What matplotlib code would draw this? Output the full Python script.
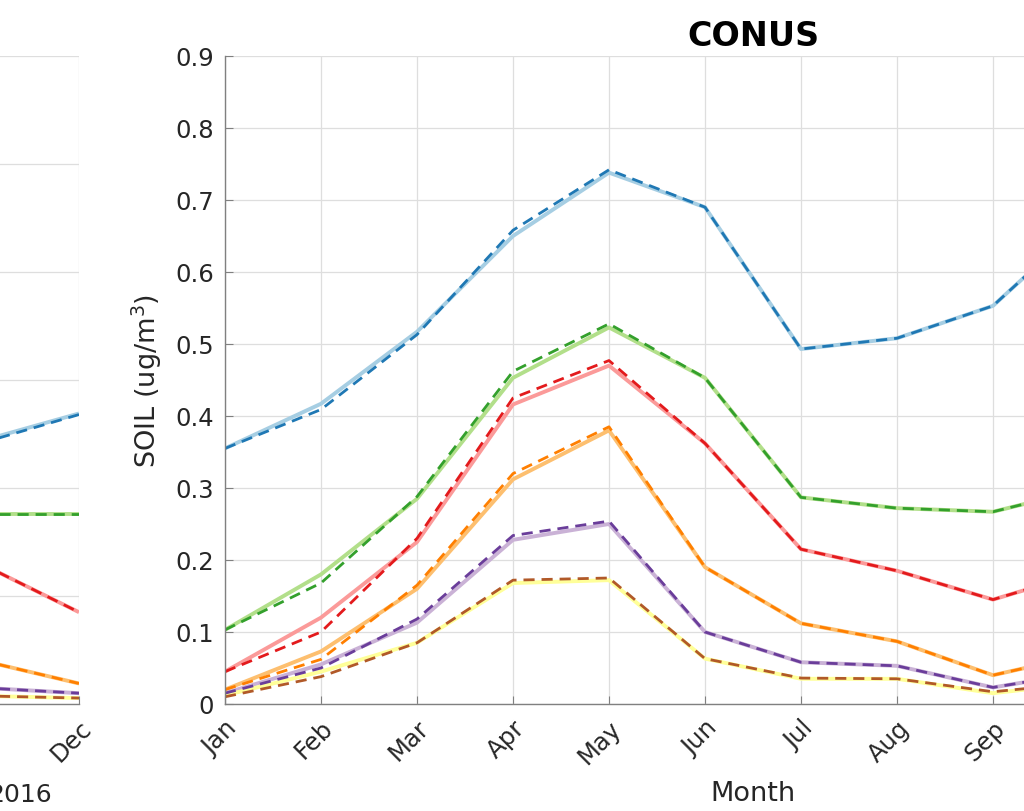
import matplotlib
matplotlib.use('Agg')
import matplotlib.pyplot as plt

months = ['Jan', 'Feb', 'Mar', 'Apr', 'May', 'Jun', 'Jul', 'Aug', 'Sep', 'Oct', 'Nov', 'Dec']

# CONUS panel, Jan..Oct (rest is off the picture)
conus_months = [1, 2, 3, 4, 5, 6, 7, 8, 9, 10]
blue_solid = [0.355, 0.417, 0.517, 0.650, 0.738, 0.690, 0.493, 0.508, 0.553, 0.675]
blue_dash = [0.355, 0.409, 0.513, 0.658, 0.742, 0.690, 0.493, 0.508, 0.553, 0.675]
green_solid = [0.103, 0.180, 0.285, 0.453, 0.523, 0.453, 0.287, 0.272, 0.267, 0.300]
green_dash = [0.103, 0.168, 0.288, 0.462, 0.528, 0.453, 0.287, 0.272, 0.267, 0.300]
red_solid = [0.045, 0.120, 0.225, 0.416, 0.470, 0.362, 0.215, 0.185, 0.145, 0.185]
red_dash = [0.045, 0.100, 0.230, 0.425, 0.477, 0.362, 0.215, 0.185, 0.145, 0.185]
orange_solid = [0.020, 0.073, 0.160, 0.312, 0.380, 0.190, 0.112, 0.087, 0.040, 0.070]
orange_dash = [0.020, 0.062, 0.165, 0.320, 0.385, 0.190, 0.112, 0.087, 0.040, 0.070]
purple_solid = [0.015, 0.055, 0.113, 0.228, 0.250, 0.100, 0.058, 0.053, 0.023, 0.045]
purple_dash = [0.015, 0.050, 0.118, 0.234, 0.254, 0.100, 0.058, 0.053, 0.023, 0.045]
yellow_solid = [0.012, 0.045, 0.085, 0.168, 0.172, 0.063, 0.035, 0.035, 0.015, 0.030]
brown_dash = [0.010, 0.038, 0.085, 0.172, 0.175, 0.063, 0.036, 0.035, 0.017, 0.030]

# left panel (2016), only the Nov-Dec piece is in view
left_months = [11, 12]
l_blue_solid = [0.244, 0.269]
l_blue_dash = [0.242, 0.268]
l_green_solid = [0.176, 0.176]
l_green_dash = [0.176, 0.176]
l_red_solid = [0.129, 0.085]
l_red_dash = [0.129, 0.085]
l_orange_solid = [0.040, 0.019]
l_orange_dash = [0.040, 0.019]
l_purple_solid = [0.015, 0.010]
l_purple_dash = [0.015, 0.010]
l_yellow_solid = [0.0075, 0.0055]
l_brown_dash = [0.0075, 0.0055]

light = ['#a6cee3', '#b2df8a', '#fb9a99', '#fdbf6f', '#cab2d6', '#ffff99']
dark = ['#1f78b4', '#33a02c', '#e31a1c', '#ff7f00', '#6a3d9a', '#b15928']

fig = plt.figure(figsize=(10.24, 8.12), dpi=100)

W = 1056 / 1024
B = 107 / 812
H = 648 / 812
ax_l = fig.add_axes([(79 - 1056) / 1024, B, W, H])
ax = fig.add_axes([225 / 1024, B, W, H])


def style(a, ymax):
    a.set_xlim(1, 12)
    a.set_ylim(0, ymax)
    a.set_xticks(range(1, 13))
    a.set_xticklabels(months, rotation=45, ha='right', va='top',
                      rotation_mode='anchor')
    a.grid(True, color='#dedede', lw=0.9)
    a.set_axisbelow(True)
    for s in ['top', 'right']:
        a.spines[s].set_visible(False)
    for s in ['left', 'bottom']:
        a.spines[s].set_color('#808080')
        a.spines[s].set_linewidth(1.0)
    a.tick_params(direction='in', length=6, color='#808080',
                  labelsize=17.5, labelcolor='#262626', pad=8)


def draw(a, x, solids, dashes):
    for ys, c in zip(solids, light):
        a.plot(x, ys, color=c, lw=2.8, solid_capstyle='butt')
    for ys, c in zip(dashes, dark):
        a.plot(x, ys, color=c, lw=2.0, dashes=(4, 2.5))


style(ax_l, 0.6)
ax_l.set_yticks([0, 0.1, 0.2, 0.3, 0.4, 0.5, 0.6])
draw(ax_l, left_months,
     [l_blue_solid, l_green_solid, l_red_solid, l_orange_solid, l_purple_solid, l_yellow_solid],
     [l_blue_dash, l_green_dash, l_red_dash, l_orange_dash, l_purple_dash, l_brown_dash])

style(ax, 0.9)
ax.set_yticks([0, 0.1, 0.2, 0.3, 0.4, 0.5, 0.6, 0.7, 0.8, 0.9])
ax.set_yticklabels(['0', '0.1', '0.2', '0.3', '0.4', '0.5', '0.6', '0.7', '0.8', '0.9'])
draw(ax, conus_months,
     [blue_solid, green_solid, red_solid, orange_solid, purple_solid, yellow_solid],
     [blue_dash, green_dash, red_dash, orange_dash, purple_dash, brown_dash])

ax.set_title('CONUS', fontsize=24, fontweight='bold', pad=8)
ax.set_ylabel('SOIL (ug/m$^3$)', fontsize=19.5, color='#262626', labelpad=8)
ax.set_xlabel('Month', fontsize=19.5, color='#262626')
ax.xaxis.set_label_coords(0.5, -0.118)

fig.text(52 / 1024, 10 / 812, '2016', fontsize=18, color='#262626',
         ha='right', va='baseline')

fig.savefig('out.png', dpi=100)
